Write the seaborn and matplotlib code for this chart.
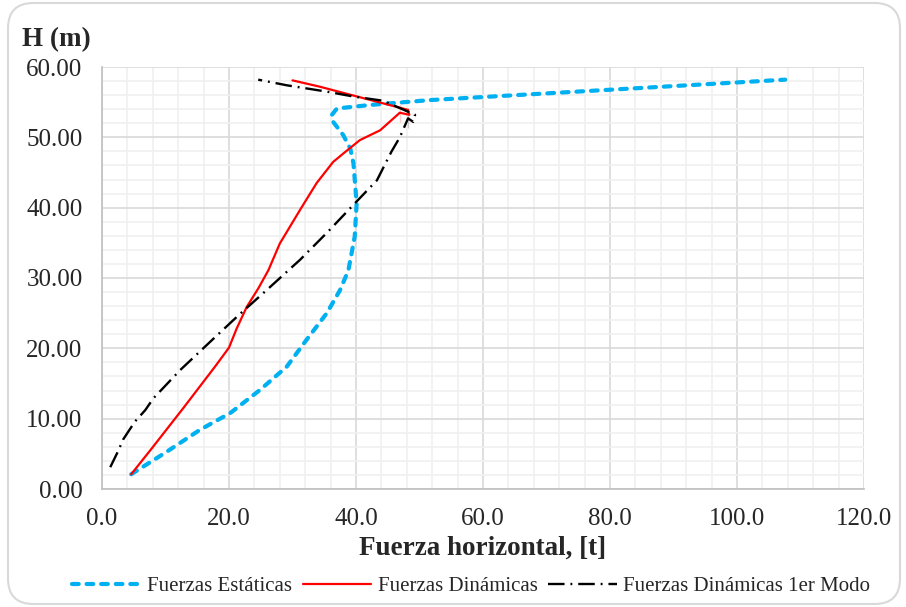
import numpy as np
import pandas as pd
import matplotlib
matplotlib.use('Agg')
import matplotlib.pyplot as plt
from matplotlib.patches import FancyBboxPatch
from matplotlib.ticker import MultipleLocator, FormatStrFormatter
import seaborn as sns

# Fuerzas Estáticas (x = fuerza [t], y = altura [m])
est_f = [4.6, 10.2, 15.4, 20.2, 24.9, 29.1, 32.2, 35.4, 37.5, 38.8, 39.8, 40.1, 39.6, 39.1,
         38.0, 36.4, 36.2, 37.0, 42.2, 51.7, 107.6]
est_h = [2.1, 5.3, 8.4, 10.8, 14.1, 17.4, 21.2, 25.0, 28.3, 31.1, 35.9, 40.6, 46.3, 48.4,
         50.3, 52.2, 53.2, 54.1, 54.6, 55.3, 58.2]

# Fuerzas Dinámicas
din_f = [4.6, 7.6, 10.2, 12.8, 17.8, 20.0, 21.2, 22.8, 24.6, 26.2, 28.0, 31.2, 33.8, 36.4,
         38.0, 40.6, 43.8, 46.9, 48.4, 48.2, 46.9, 34.3, 30.0]
din_h = [2.1, 5.5, 8.5, 11.5, 17.4, 20.1, 22.8, 25.9, 28.5, 31.1, 34.9, 39.7, 43.5, 46.5,
         47.7, 49.6, 51.0, 52.2, 53.2, 53.9, 54.8, 57.2, 58.1]

# Fuerzas Dinámicas 1er Modo
modo_f = [1.3, 2.6, 3.3, 4.1, 5.2, 6.8, 8.1, 12.3, 17.0, 21.5, 26.2, 31.2, 35.6, 39.8, 43.3,
          45.6, 46.9, 48.2, 49.0, 49.3, 48.2, 44.3, 39.6, 35.4, 29.1, 24.6]
modo_h = [3.1, 5.5, 7.0, 8.1, 9.6, 11.2, 12.9, 16.9, 20.9, 24.7, 28.5, 32.6, 36.6, 40.6, 43.9,
          48.0, 50.0, 51.3, 52.2, 53.2, 54.1, 55.2, 55.8, 56.5, 57.4, 58.2]

sns.set_style('white')
plt.rcParams['font.family'] = ['Liberation Serif', 'DejaVu Serif']

fig = plt.figure(figsize=(9.06, 6.07), dpi=100)
ax = fig.add_axes([102 / 906, 1 - 489 / 607, (864 - 102) / 906, (489 - 67) / 607])

# marco redondeado
frame = FancyBboxPatch((8 / 906, 3 / 607), 892 / 906, 601 / 607,
                       boxstyle='round,pad=0,rounding_size=0.028',
                       transform=fig.transFigure, facecolor='none',
                       edgecolor='#d9d9d9', linewidth=1.5, mutation_aspect=906 / 607)
fig.patches.append(frame)

sns.lineplot(x=est_f, y=est_h, sort=False, ax=ax, color='#00b0f0', lw=3.0,
             label='Fuerzas Estáticas')
ax.lines[-1].set_dashes([1.6, 1.9])
ax.lines[-1].set_dash_capstyle('round')
sns.lineplot(x=din_f, y=din_h, sort=False, ax=ax, color='#ff0000', lw=1.6,
             label='Fuerzas Dinámicas')
sns.lineplot(x=modo_f, y=modo_h, sort=False, ax=ax, color='black', lw=1.7,
             label='Fuerzas Dinámicas 1er Modo')
ax.lines[-1].set_dashes([7, 2.5, 0.8, 2.5])

ax.set_xlim(0, 120)
ax.set_ylim(0, 60)
ax.xaxis.set_major_locator(MultipleLocator(20))
ax.xaxis.set_minor_locator(MultipleLocator(4))
ax.yaxis.set_major_locator(MultipleLocator(10))
ax.yaxis.set_minor_locator(MultipleLocator(2))
ax.xaxis.set_major_formatter(FormatStrFormatter('%.1f'))
ax.yaxis.set_major_formatter(FormatStrFormatter('%.2f'))
ax.grid(True, which='major', color='#d9d9d9', lw=1.2)
ax.grid(True, which='minor', color='#f0f0f0', lw=1.2)
ax.set_axisbelow(True)
for s in ['top', 'right']:
    ax.spines[s].set_visible(False)
for s in ['left', 'bottom']:
    ax.spines[s].set_color('#bfbfbf')
    ax.spines[s].set_linewidth(1.2)
ax.tick_params(axis='both', which='both', length=0, labelsize=18, pad=14)

ax.set_xlabel('Fuerza horizontal, [t]', fontsize=19.5, fontweight='bold', labelpad=4)
ax.set_ylabel('')
fig.text(22 / 906, 1 - 40 / 607, 'H (m)', fontsize=19.5, fontweight='bold', va='center', ha='left')

h, l = ax.get_legend_handles_labels()
ax.get_legend().remove()
fig.legend(h, l, loc='center', bbox_to_anchor=(0.52, 1 - 586 / 607), ncol=3,
           frameon=False, fontsize=15, handlelength=3.3, handletextpad=0.3,
           columnspacing=0.5)

fig.savefig('out.png', dpi=100)
